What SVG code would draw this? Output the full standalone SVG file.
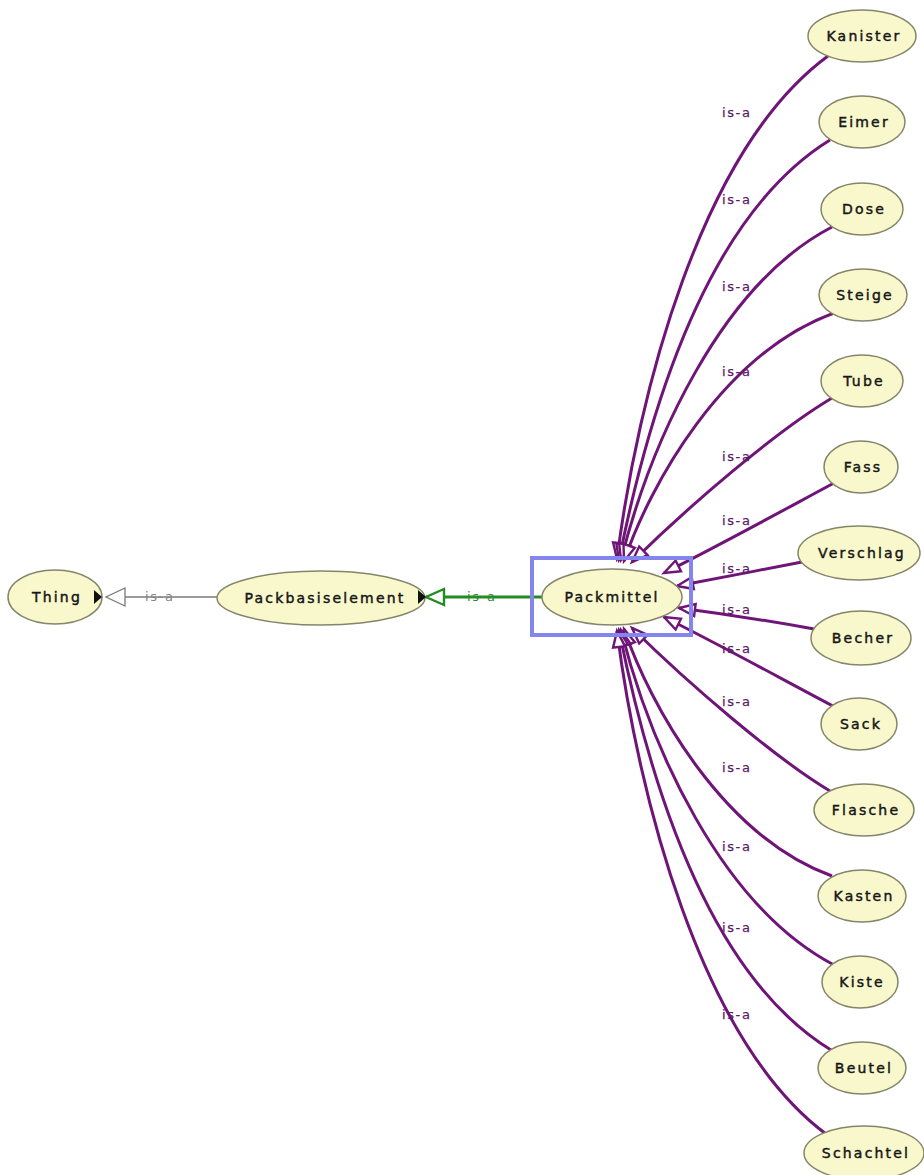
<svg xmlns="http://www.w3.org/2000/svg" width="924" height="1175" viewBox="0 0 924 1175">
  <style>
    .node ellipse { fill: #f9f8cc; stroke: #85856a; stroke-width: 1.5; }
    .node text { font-family: "DejaVu Sans", "Noto Sans", sans-serif; font-size: 14px; letter-spacing: 2.2px; fill: #161616; stroke: #161616; stroke-width: 0.45px; text-anchor: middle; }
    .isa { fill: none; stroke: #6e1577; stroke-width: 3; marker-end: url(#hollowPurple); }
    .lbl { font-family: "DejaVu Sans", "Noto Sans", sans-serif; font-size: 13px; letter-spacing: 1.6px; fill: #5e1a66; stroke: #5e1a66; stroke-width: 0.25px; }
    .lbl-gray { font-family: "DejaVu Sans", "Noto Sans", sans-serif; font-size: 13px; letter-spacing: 1.6px; fill: #858585; }
    .lbl-green { font-family: "DejaVu Sans", "Noto Sans", sans-serif; font-size: 13px; letter-spacing: 1.6px; fill: #2f8a2f; }
    .expand { fill: #111111; }
  </style>
  <defs>
    <marker id="hollowPurple" markerUnits="userSpaceOnUse" markerWidth="24" markerHeight="20" refX="18" refY="8" orient="auto" overflow="visible">
      <path d="M2,2 L18,8 L2,14 Z" fill="#ffffff" stroke="#6e1577" stroke-width="2.4" stroke-linejoin="miter"/>
    </marker>
    <marker id="hollowGray" markerUnits="userSpaceOnUse" markerWidth="24" markerHeight="22" refX="20" refY="10" orient="auto" overflow="visible">
      <path d="M1,1 L20,10 L1,19 Z" fill="#ffffff" stroke="#7a7a7a" stroke-width="1.3"/>
    </marker>
    <marker id="hollowGreen" markerUnits="userSpaceOnUse" markerWidth="24" markerHeight="22" refX="20" refY="10" orient="auto" overflow="visible">
      <path d="M2,2 L20,10 L2,18 Z" fill="#ffffff" stroke="#228b22" stroke-width="2.4"/>
    </marker>
  </defs>

  <rect x="0" y="0" width="924" height="1175" fill="#ffffff"/>

  <!-- connectors -->
  <g id="connectors">
    <!-- Packbasiselement is-a Thing -->
    <line x1="218" y1="597" x2="106" y2="597" stroke="#7a7a7a" stroke-width="1.3" marker-end="url(#hollowGray)"/>
    <text class="lbl-gray" x="145" y="601">is-a</text>
    <!-- Packmittel is-a Packbasiselement -->
    <line x1="542" y1="597" x2="426" y2="597" stroke="#228b22" stroke-width="2.8" marker-end="url(#hollowGreen)"/>
    <text class="lbl-green" x="467" y="601">is-a</text>

    <!-- subclasses of Packmittel -->
    <path class="isa" d="M828,56 C700,150 638,395 617,559"/>
    <path class="isa" d="M830,140 C702,219 646,425 619,560"/>
    <path class="isa" d="M832,227 C720,285 650,445 621,560"/>
    <path class="isa" d="M834,313 C722,354 650,485 624,561"/>
    <path class="isa" d="M832,398 C775,432 690,505 632,562"/>
    <path class="isa" d="M834,483 C780,512 720,545 664,573"/>
    <path class="isa" d="M802,562 C760,570 720,578 677,586"/>
    <path class="isa" d="M814,629 C770,621 725,614 679,608"/>
    <path class="isa" d="M833,706 C780,678 720,645 664,617"/>
    <path class="isa" d="M830,791 C775,758 690,685 632,628"/>
    <path class="isa" d="M832,876 C722,836 650,705 624,629"/>
    <path class="isa" d="M834,965 C720,905 650,745 621,630"/>
    <path class="isa" d="M831,1050 C702,971 646,765 619,630"/>
    <path class="isa" d="M826,1134 C700,1040 638,795 617,631"/>

    <text class="lbl" x="722" y="117">is-a</text>
    <text class="lbl" x="722" y="204">is-a</text>
    <text class="lbl" x="722" y="291">is-a</text>
    <text class="lbl" x="722" y="376">is-a</text>
    <text class="lbl" x="722" y="461">is-a</text>
    <text class="lbl" x="722" y="525">is-a</text>
    <text class="lbl" x="722" y="573">is-a</text>
    <text class="lbl" x="722" y="614">is-a</text>
    <text class="lbl" x="722" y="653">is-a</text>
    <text class="lbl" x="722" y="706">is-a</text>
    <text class="lbl" x="722" y="772">is-a</text>
    <text class="lbl" x="722" y="851">is-a</text>
    <text class="lbl" x="722" y="932">is-a</text>
    <text class="lbl" x="722" y="1019">is-a</text>
  </g>

  <!-- nodes -->
  <g id="node-thing" class="node">
    <ellipse cx="55" cy="597" rx="47" ry="27"/>
    <text x="57" y="602">Thing</text>
    <path class="expand" d="M94,590 L102,597 L94,604 Z"/>
  </g>
  <g id="node-packbasiselement" class="node">
    <ellipse cx="321" cy="598" rx="104" ry="27"/>
    <text x="325" y="603">Packbasiselement</text>
    <path class="expand" d="M418,590 L426,597 L418,604 Z"/>
  </g>
  <g id="node-packmittel" class="node">
    <ellipse cx="612" cy="597" rx="70" ry="28"/>
    <text x="612" y="602">Packmittel</text>
  </g>
  <g id="node-kanister" class="node">
    <ellipse cx="862" cy="36" rx="54" ry="26"/>
    <text x="864" y="41">Kanister</text>
  </g>
  <g id="node-eimer" class="node">
    <ellipse cx="862" cy="122" rx="43" ry="26"/>
    <text x="864" y="127">Eimer</text>
  </g>
  <g id="node-dose" class="node">
    <ellipse cx="862" cy="209" rx="41" ry="26"/>
    <text x="864" y="214">Dose</text>
  </g>
  <g id="node-steige" class="node">
    <ellipse cx="863" cy="295" rx="44" ry="26"/>
    <text x="865" y="300">Steige</text>
  </g>
  <g id="node-tube" class="node">
    <ellipse cx="862" cy="381" rx="41" ry="26"/>
    <text x="864" y="386">Tube</text>
  </g>
  <g id="node-fass" class="node">
    <ellipse cx="861" cy="467" rx="37" ry="26"/>
    <text x="863" y="472">Fass</text>
  </g>
  <g id="node-verschlag" class="node">
    <ellipse cx="859" cy="553" rx="61" ry="27"/>
    <text x="862" y="558">Verschlag</text>
  </g>
  <g id="node-becher" class="node">
    <ellipse cx="861" cy="638" rx="50" ry="27"/>
    <text x="863" y="643">Becher</text>
  </g>
  <g id="node-sack" class="node">
    <ellipse cx="859" cy="724" rx="38" ry="26"/>
    <text x="861" y="729">Sack</text>
  </g>
  <g id="node-flasche" class="node">
    <ellipse cx="864" cy="810" rx="50" ry="26"/>
    <text x="866" y="815">Flasche</text>
  </g>
  <g id="node-kasten" class="node">
    <ellipse cx="862" cy="896" rx="44" ry="26"/>
    <text x="864" y="901">Kasten</text>
  </g>
  <g id="node-kiste" class="node">
    <ellipse cx="860" cy="982" rx="38" ry="26"/>
    <text x="862" y="987">Kiste</text>
  </g>
  <g id="node-beutel" class="node">
    <ellipse cx="862" cy="1068" rx="44" ry="26"/>
    <text x="864" y="1073">Beutel</text>
  </g>
  <g id="node-schachtel" class="node">
    <ellipse cx="864" cy="1153" rx="60" ry="27"/>
    <text x="866" y="1158">Schachtel</text>
  </g>

  <!-- selection frame around Packmittel -->
  <rect id="selection" x="532" y="558" width="159" height="77" fill="none" stroke="#8585ee" stroke-width="4"/>
</svg>
